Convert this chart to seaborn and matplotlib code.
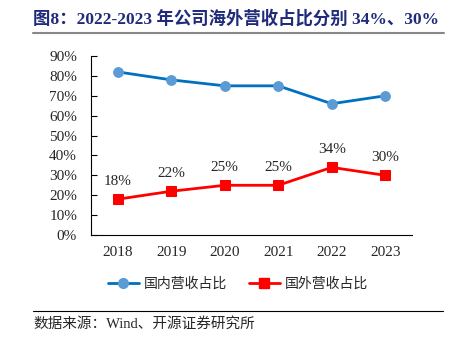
import matplotlib
matplotlib.use("Agg")
import matplotlib.pyplot as plt
import seaborn as sns
import pandas as pd
from matplotlib.lines import Line2D
from matplotlib.ticker import FixedLocator

years = ["2018", "2019", "2020", "2021", "2022", "2023"]
domestic = [82, 78, 75, 75, 66, 70]
overseas = [18, 22, 25, 25, 34, 30]
overseas_labels = ["18%", "22%", "25%", "25%", "34%", "30%"]
yticks = [0, 10, 20, 30, 40, 50, 60, 70, 80, 90]
title = "图8：2022-2023 年公司海外营收占比分别 34%、30%"
source = "数据来源：Wind、开源证券研究所"
series_names = ["国内营收占比", "国外营收占比"]

sns.set_theme(style="white")
plt.rcParams['font.family'] = ['Liberation Serif', 'Noto Sans CJK SC']

df = pd.DataFrame({"x": list(range(len(years))) * 2,
                   "v": domestic + overseas,
                   "s": [series_names[0]] * 6 + [series_names[1]] * 6})

fig = plt.figure(figsize=(4.56, 3.42), dpi=100)
ax = fig.add_axes([91/456, 1 - 235/342, (412-91)/456, (235-56)/342])

d1 = df[df.s == series_names[0]]
d2 = df[df.s == series_names[1]]
sns.lineplot(data=d1, x="x", y="v", ax=ax, color="#0070C0", lw=2,
             marker="o", markersize=7, markerfacecolor="#5B9BD5",
             markeredgecolor="#5B9BD5", legend=False)
sns.lineplot(data=d2, x="x", y="v", ax=ax, color="#FF0000", lw=2,
             marker="s", markersize=7, markerfacecolor="#FF0000",
             markeredgecolor="#FF0000", legend=False)

for i, (v, t) in enumerate(zip(overseas, overseas_labels)):
    ax.text(i, v + 5.5, t, ha="center", va="bottom", fontsize=11,
            family=['Liberation Serif'])

ax.set_xlim(-0.5, len(years) - 0.5)
ax.set_ylim(0, 90)
ax.set_yticks(yticks)
ax.set_yticklabels([f"{t}%" for t in yticks], fontsize=11)
ax.set_xticks(range(len(years)))
ax.set_xticklabels(years, fontsize=11)
ax.tick_params(axis="x", which="major", length=0, pad=8)
ax.xaxis.set_minor_locator(FixedLocator([i + 0.5 for i in range(len(years) - 1)] + [len(years) - 0.5]))
ax.tick_params(axis="x", which="minor", direction="in", length=4, width=0.8, color="black")
ax.tick_params(axis="y", direction="in", length=4, width=0.8, color="black", left=True, pad=10)
ax.set_xlabel("")
ax.set_ylabel("")
for s in ["top", "right"]:
    ax.spines[s].set_visible(False)
for s in ["left", "bottom"]:
    ax.spines[s].set_color("black")
    ax.spines[s].set_linewidth(0.8)

handles = [Line2D([], [], color="#0070C0", lw=2, marker="o", markersize=7,
                  markerfacecolor="#5B9BD5", markeredgecolor="#5B9BD5"),
           Line2D([], [], color="#FF0000", lw=2, marker="s", markersize=7,
                  markerfacecolor="#FF0000", markeredgecolor="#FF0000")]
fig.legend(handles, series_names, loc="center", bbox_to_anchor=(238/456, 1 - 284/342),
           ncol=2, frameon=False, prop={'family': ['Noto Sans CJK SC'], 'size': 10},
           handlelength=2.2, columnspacing=1.6, handletextpad=0.35)

fig.text(33/456, 1 - 19/342, title, ha="left", va="center", fontsize=12.5,
         fontweight="bold", color="#1F2A7A", family=['Liberation Serif', 'Noto Sans CJK SC'])
fig.add_artist(Line2D([33/456, 444/456], [1 - 33/342, 1 - 33/342], color="#888888", lw=1.5))
fig.add_artist(Line2D([33/456, 443/456], [1 - 311/342, 1 - 311/342], color="black", lw=0.8))
fig.text(33/456, 1 - 324/342, source, ha="left", va="center", fontsize=10.5,
         family=['Liberation Serif', 'Noto Sans CJK SC'])

fig.savefig("out.png", dpi=100)
